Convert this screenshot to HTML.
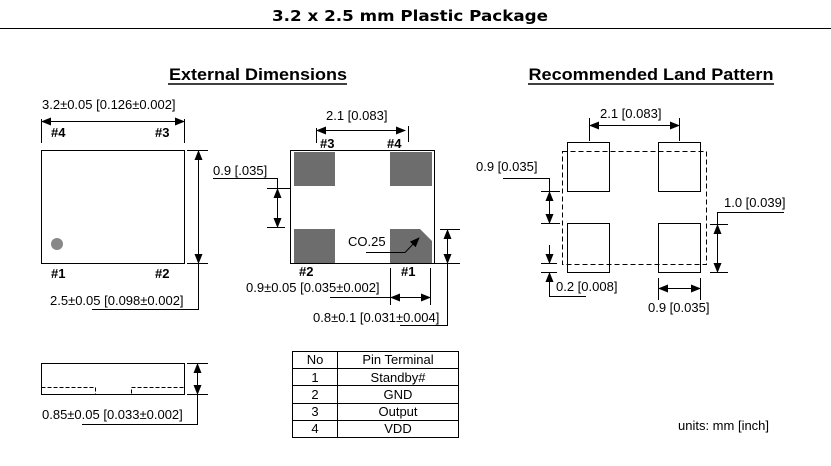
<!DOCTYPE html>
<html><head><meta charset="utf-8"><style>html,body{margin:0;padding:0;background:#fff}svg{display:block}</style></head><body>
<svg width="831" height="466" viewBox="0 0 831 466" xmlns="http://www.w3.org/2000/svg" font-family="Liberation Sans, Arial, sans-serif" font-size="13">
<defs>
<marker id="a" markerWidth="10" markerHeight="8" refX="9" refY="4" orient="auto-start-reverse" markerUnits="userSpaceOnUse"><path d="M0,0 L10,4 L0,8 z" fill="#000"/></marker>
</defs>
<text x="410" y="21" text-anchor="middle" font-family="DejaVu Sans, sans-serif" font-weight="bold" font-size="15" textLength="276" lengthAdjust="spacingAndGlyphs">3.2 x 2.5 mm Plastic Package</text>
<line x1="0" y1="28.5" x2="831" y2="28.5" stroke="#000"/>
<text x="258" y="80" text-anchor="middle" font-weight="bold" font-size="17" textLength="178" lengthAdjust="spacingAndGlyphs">External Dimensions</text>
<line x1="168" y1="84" x2="347" y2="84" stroke="#000" stroke-width="1.5"/>
<text x="651" y="80" text-anchor="middle" font-weight="bold" font-size="17" textLength="245" lengthAdjust="spacingAndGlyphs">Recommended Land Pattern</text>
<line x1="528" y1="84" x2="774" y2="84" stroke="#000" stroke-width="1.5"/>

<circle cx="57" cy="244" r="6" fill="#888"/>
<g fill="#6d6d6d">
<rect x="294" y="152" width="41" height="34"/><rect x="390" y="152" width="42" height="34"/>
<rect x="294" y="229" width="41" height="34"/><path d="M390,229 H420 L432,241 V263 H390 Z"/>
</g>

<g stroke="#000" fill="none">
<rect x="41.5" y="150.5" width="143" height="113"/>
<line x1="41.5" y1="119" x2="41.5" y2="143"/><line x1="184.5" y1="119" x2="184.5" y2="143"/>
<line x1="42" y1="121.5" x2="184" y2="121.5" marker-start="url(#a)" marker-end="url(#a)"/>
<line x1="187" y1="150.5" x2="208" y2="150.5"/><line x1="187" y1="263.5" x2="208" y2="263.5"/>
<line x1="198.5" y1="151" x2="198.5" y2="263" marker-start="url(#a)" marker-end="url(#a)"/>
<polyline points="198.5,263 198.5,309.5 92,309.5"/>
<rect x="41.5" y="363.5" width="143" height="31"/>
<rect x="41.5" y="387.5" width="54" height="7" stroke-dasharray="4,2"/>
<rect x="131.5" y="387.5" width="53" height="7" stroke-dasharray="4,2"/>
<line x1="187" y1="363.5" x2="208" y2="363.5"/><line x1="187" y1="394.5" x2="208" y2="394.5"/>
<line x1="197.5" y1="364" x2="197.5" y2="394" marker-start="url(#a)" marker-end="url(#a)"/>
<polyline points="197.5,394 197.5,424.5 82,424.5"/>
<rect x="290.5" y="150.5" width="144" height="113"/>
<line x1="316.5" y1="128" x2="316.5" y2="143"/><line x1="408.5" y1="126" x2="408.5" y2="142"/>
<line x1="317" y1="130.5" x2="405" y2="130.5" marker-start="url(#a)" marker-end="url(#a)"/>
<polyline points="213,178.5 277.5,178.5 277.5,188"/>
<line x1="267" y1="188.5" x2="290" y2="188.5"/><line x1="267" y1="227.5" x2="285" y2="227.5"/>
<line x1="277.5" y1="189" x2="277.5" y2="227" marker-start="url(#a)" marker-end="url(#a)"/>
<polyline points="366,252.5 405,252.5 419,238" marker-end="url(#a)"/>
<line x1="440" y1="229.5" x2="460" y2="229.5"/><line x1="434" y1="263.5" x2="460" y2="263.5"/>
<line x1="447.5" y1="230" x2="447.5" y2="263" marker-start="url(#a)" marker-end="url(#a)"/>
<polyline points="447.5,263 447.5,325.5 400,325.5"/>
<line x1="390.5" y1="268" x2="390.5" y2="305"/><line x1="430.5" y1="268" x2="430.5" y2="305"/>
<line x1="330" y1="297.5" x2="390" y2="297.5"/>
<line x1="391" y1="297.5" x2="430" y2="297.5" marker-start="url(#a)" marker-end="url(#a)"/>
<rect x="567.5" y="142.5" width="42" height="49"/><rect x="658.5" y="142.5" width="42" height="49"/>
<rect x="567.5" y="223.5" width="42" height="49"/><rect x="658.5" y="223.5" width="42" height="49"/>
<rect x="562.5" y="151.5" width="144" height="113" stroke-dasharray="5,3"/>
<line x1="589.5" y1="118" x2="589.5" y2="141"/><line x1="679.5" y1="118" x2="679.5" y2="141"/>
<line x1="590" y1="125.5" x2="679" y2="125.5" marker-start="url(#a)" marker-end="url(#a)"/>
<polyline points="503,178.5 549.5,178.5 549.5,191"/>
<line x1="541" y1="191.5" x2="560" y2="191.5"/><line x1="541" y1="223.5" x2="560" y2="223.5"/>
<line x1="549.5" y1="192" x2="549.5" y2="223" marker-start="url(#a)" marker-end="url(#a)"/>
<line x1="541" y1="263.5" x2="557" y2="263.5"/><line x1="541" y1="272.5" x2="557" y2="272.5"/>
<line x1="549.5" y1="245" x2="549.5" y2="263" marker-end="url(#a)"/>
<polyline points="586,296.5 549.5,296.5 549.5,273" marker-end="url(#a)"/>
<polyline points="784,212.5 717.5,212.5 717.5,224"/>
<line x1="710" y1="224.5" x2="728" y2="224.5"/><line x1="710" y1="272.5" x2="728" y2="272.5"/>
<line x1="717.5" y1="225" x2="717.5" y2="272" marker-start="url(#a)" marker-end="url(#a)"/>
<line x1="658.5" y1="278" x2="658.5" y2="300"/><line x1="700.5" y1="278" x2="700.5" y2="300"/>
<line x1="659" y1="288.5" x2="700" y2="288.5" marker-start="url(#a)" marker-end="url(#a)"/>
<rect x="292.5" y="351.5" width="166" height="86"/>
<line x1="337.5" y1="351" x2="337.5" y2="438"/>
<line x1="292" y1="368.5" x2="458" y2="368.5"/><line x1="292" y1="385.5" x2="458" y2="385.5"/>
<line x1="292" y1="403.5" x2="458" y2="403.5"/><line x1="292" y1="420.5" x2="458" y2="420.5"/>
</g>
<g fill="#000">
<text x="42" y="109">3.2±0.05 [0.126±0.002]</text>
<text x="51" y="137" font-weight="bold">#4</text><text x="155" y="137" font-weight="bold">#3</text>
<text x="51" y="278" font-weight="bold">#1</text><text x="155" y="278" font-weight="bold">#2</text>
<text x="50" y="305">2.5±0.05 [0.098±0.002]</text>
<text x="42" y="419">0.85±0.05 [0.033±0.002]</text>
<text x="326" y="120">2.1 [0.083]</text>
<text x="320" y="148" font-weight="bold">#3</text><text x="387" y="148" font-weight="bold">#4</text>
<text x="213" y="175">0.9 [.035]</text>
<text x="348" y="246">CO.25</text>
<text x="299" y="276" font-weight="bold">#2</text><text x="401" y="276" font-weight="bold">#1</text>
<text x="246" y="292">0.9±0.05 [0.035±0.002]</text>
<text x="313" y="322">0.8±0.1 [0.031±0.004]</text>
<text x="600" y="118">2.1 [0.083]</text>
<text x="476" y="171">0.9 [0.035]</text>
<text x="724" y="207">1.0 [0.039]</text>
<text x="556" y="291">0.2 [0.008]</text>
<text x="648" y="312">0.9 [0.035]</text>
<text x="315" y="364" text-anchor="middle">No</text><text x="398" y="364" text-anchor="middle">Pin Terminal</text>
<text x="315" y="382" text-anchor="middle">1</text><text x="398" y="382" text-anchor="middle">Standby#</text>
<text x="315" y="399" text-anchor="middle">2</text><text x="398" y="399" text-anchor="middle">GND</text>
<text x="315" y="416" text-anchor="middle">3</text><text x="398" y="416" text-anchor="middle">Output</text>
<text x="315" y="433" text-anchor="middle">4</text><text x="398" y="433" text-anchor="middle">VDD</text>
<text x="678" y="430">units:  mm [inch]</text>
</g>
</svg>
</body></html>
